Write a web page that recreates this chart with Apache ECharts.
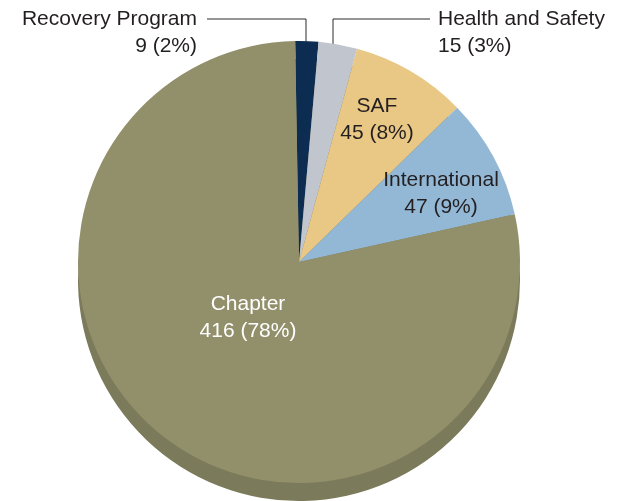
<!DOCTYPE html>
<html>
<head>
<meta charset="utf-8">
<script src="https://cdn.jsdelivr.net/npm/echarts@6/dist/echarts.min.js"></script>
<style>
  html, body { margin: 0; padding: 0; background: #fff; }
  #chart { width: 622px; height: 501px; }
</style>
</head>
<body>
<div id="chart"></div>
<script>
// 数据
var categories = ['Recovery Program', 'Health and Safety', 'SAF', 'International', 'Chapter']
var values = [9, 15, 45, 47, 416]
var colors = ['#0c2d51', '#c1c5cd', '#e9c785', '#93b8d6', '#928f6b']

// 标签位置 (按 dataIndex)
var labelPos = [
  { x: 197, y: 33, align: 'right', line: [[306, 56], [306, 19], [207, 19]] },
  { x: 438, y: 33, align: 'left', line: [[333, 56], [333, 19], [430, 19]] },
  { x: 377, y: 120, align: 'center' },
  { x: 441, y: 194, align: 'center' },
  { x: 248, y: 318, align: 'center' }
]

var myChart = echarts.init(document.getElementById('chart'))

var pieData = []
for (var i = 0; i < categories.length; i++) {
  var outside = i < 2
  pieData.push({
    name: categories[i],
    value: values[i],
    itemStyle: { color: colors[i] },
    label: {
      position: outside ? 'outside' : 'inside',
      color: i === 4 ? '#ffffff' : '#231f20'
    },
    labelLine: { show: outside }
  })
}

var option = {
  animation: false,
  series: [
    {
      // 底部阴影（伪3D）
      type: 'pie',
      silent: true,
      z: 1,
      center: [299, 280],
      radius: 221,
      startAngle: 91,
      label: { show: false },
      labelLine: { show: false },
      itemStyle: { color: '#7b7a5a' },
      data: values.map(function (v) { return { value: v } })
    },
    {
      type: 'pie',
      z: 2,
      center: [299, 262],
      radius: 221,
      startAngle: 91,
      clockwise: true,
      percentPrecision: 0,
      avoidLabelOverlap: false,
      label: {
        show: true,
        formatter: '{b}\n{c} ({d}%)',
        fontFamily: 'Liberation Sans',
        fontSize: 21,
        lineHeight: 27
      },
      labelLine: {
        show: true,
        lineStyle: { color: '#2a2a2a', width: 1 }
      },
      labelLayout: function (params) {
        var p = labelPos[params.dataIndex]
        var res = { x: p.x, y: p.y, align: p.align, verticalAlign: 'middle' }
        if (p.line) {
          res.labelLinePoints = p.line
        }
        return res
      },
      data: pieData
    }
  ]
}

myChart.setOption(option, true)
</script>
</body>
</html>
